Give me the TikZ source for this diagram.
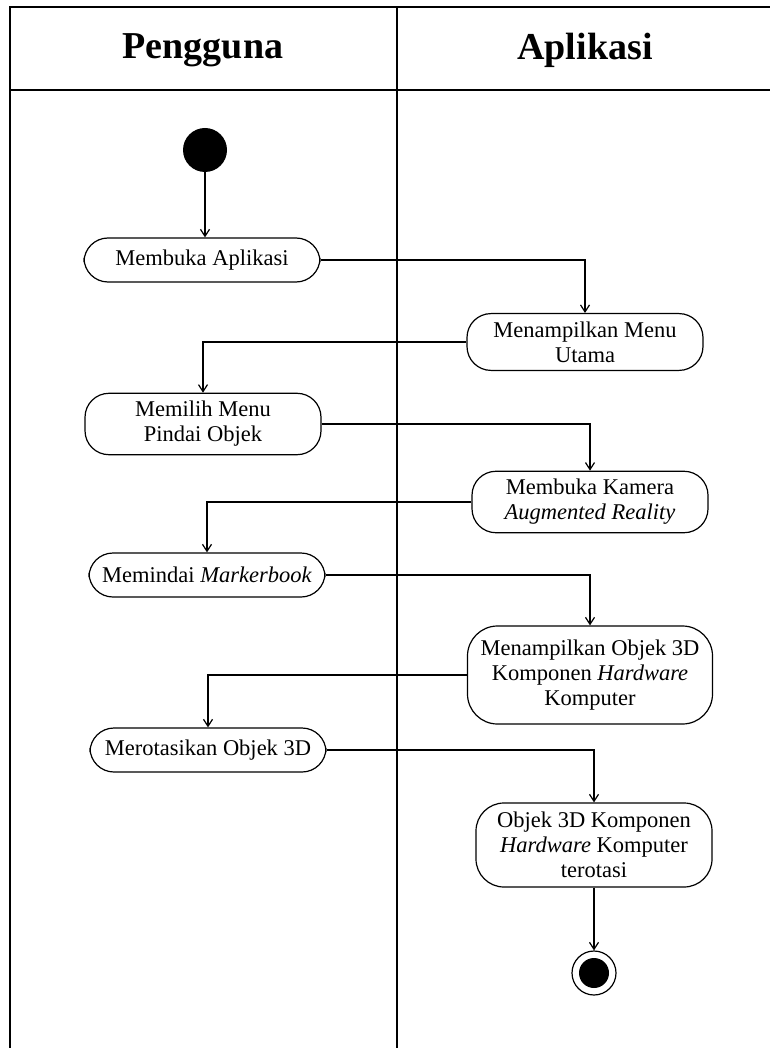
\documentclass[tikz,border=0pt]{standalone}
\usepackage{fontspec}
\setmainfont{Liberation Serif}
\usepackage{tikz}
\usetikzlibrary{positioning,arrows.meta,calc}

\begin{document}
\begin{tikzpicture}[
        x=1pt, y=-1pt,
        lane/.style={draw=black, line width=2.6pt},
        lanehead/.style={font=\fontsize{38}{42}\selectfont\bfseries},
        act/.style={draw=black, line width=1.2pt, rounded corners=24pt, align=center,
            minimum width=236pt, minimum height=44pt, inner ysep=8pt,
            font=\fontsize{22.5}{25}\selectfont},
        startnode/.style={circle, fill=black, minimum size=44pt, inner sep=0pt},
        endnode/.style={circle, draw=black, line width=1.2pt, fill=white, minimum size=44pt,
            inner sep=0pt, path picture={\fill[black] (path picture bounding box.center) circle (15pt);}},
        arrow/.style={-{Straight Barb[length=7pt, width=9pt]}, line width=1.2pt}
    ]
    \useasboundingbox (0,0) rectangle (769,1048);
    % swimlanes
    \draw[lane] (10,1060) -- (10,7) -- (780,7);
    \draw[lane] (10,90) -- (780,90);
    \draw[lane] (397,7) -- (397,1060);
    \node[lanehead] (user) at (203,50) {Pengguna};
    \node[lanehead] (app) at (585,50) {Aplikasi};

    \node[startnode] (start) at (205,150) {};
    \node[act] (buka) at (202,260) {Membuka Aplikasi};
    \node[act] (menu) at (585,342) {Menampilkan Menu\\Utama};
    \node[act] (pilih) at (203,424) {Memilih Menu\\Pindai Objek};
    \node[act] (kamera) at (590,502) {Membuka Kamera\\\textit{Augmented Reality}};
    \node[act] (pindai) at (207,575) {Memindai \textit{Markerbook}};
    \node[act, minimum width=245pt, minimum height=98pt, inner xsep=2pt, rounded corners=30pt] (tampil) at (590,675)
        {Menampilkan Objek 3D\\Komponen \textit{Hardware}\\Komputer};
    \node[act] (rotasi) at (208,750) {Merotasikan Objek 3D};
    \node[act, minimum height=84pt, inner ysep=2pt, rounded corners=28pt] (hasil) at (594,845)
        {Objek 3D Komponen\\\textit{Hardware} Komputer\\terotasi};
    \node[endnode] (end) at (594,973) {};

    \draw[arrow] (start) -- (start |- buka.north);
    \draw[arrow] (buka.east) -| (menu.north);
    \draw[arrow] (menu.west) -| (pilih.north);
    \draw[arrow] (pilih.east) -| (kamera.north);
    \draw[arrow] (kamera.west) -| (pindai.north);
    \draw[arrow] (pindai.east) -| (tampil.north);
    \draw[arrow] (tampil.west) -| (rotasi.north);
    \draw[arrow] (rotasi.east) -| (hasil.north);
    \draw[arrow] (hasil) -- (end);
\end{tikzpicture}
\end{document}
